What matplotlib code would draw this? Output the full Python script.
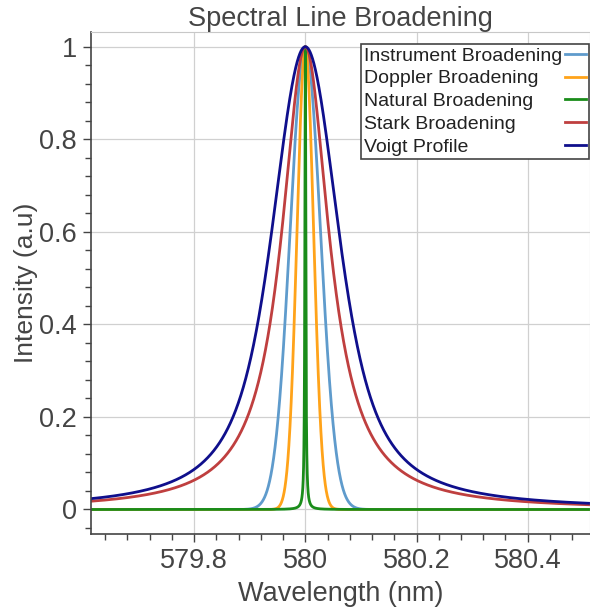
import numpy as np
import matplotlib
matplotlib.use("Agg")
import matplotlib.pyplot as plt
from matplotlib.ticker import MultipleLocator, FuncFormatter

plt.rcParams['font.family'] = ['Liberation Sans', 'DejaVu Sans']

# Profile parameters (nm)
center = 580.0
instrument_fwhm = 0.064   # Gaussian
doppler_fwhm = 0.035      # Gaussian
natural_fwhm = 0.002      # Lorentzian
stark_fwhm = 0.104        # Lorentzian
x_range = (579.614, 580.512)
y_range = (-0.053, 1.031)

labels = ["Instrument Broadening", "Doppler Broadening", "Natural Broadening",
          "Stark Broadening", "Voigt Profile"]
colors = ["#5f9bcc", "#ffa31a", "#1a8c1a", "#bf3f3f", "#0f0f8c"]

x = np.linspace(579.4, 580.6, 24001)
dx = x[1] - x[0]


def gauss(x, fwhm):
    s = fwhm / (2 * np.sqrt(2 * np.log(2)))
    return np.exp(-(x - center) ** 2 / (2 * s ** 2))


def lorentz(x, fwhm):
    g = fwhm / 2
    return 1 / (1 + ((x - center) / g) ** 2)


inst = gauss(x, instrument_fwhm)
dopp = gauss(x, doppler_fwhm)
nat = lorentz(x, natural_fwhm)
stark = lorentz(x, stark_fwhm)

# Voigt: Gaussian (instrument+doppler) convolved with Lorentzian (stark+natural)
g_fwhm = np.sqrt(instrument_fwhm ** 2 + doppler_fwhm ** 2)
offs = np.arange(-2000, 2001) * dx
kern = gauss(offs + center, g_fwhm)
kern = kern / kern.sum()
l_tot = lorentz(x, stark_fwhm + natural_fwhm)
voigt = np.convolve(l_tot, kern, mode="same")
voigt = voigt / voigt.max()

curves = [inst, dopp, nat, stark, voigt]

fig = plt.figure(figsize=(5.9, 6.11), dpi=100)
ax = fig.add_axes([0.1537, 0.126, 0.8463, 0.821])

for y, c, lab in zip(curves, colors, labels):
    ax.plot(x, y, color=c, lw=2, label=lab)

ax.set_xlim(*x_range)
ax.set_ylim(*y_range)

ax.xaxis.set_major_locator(MultipleLocator(0.2))
ax.xaxis.set_minor_locator(MultipleLocator(0.04))
ax.yaxis.set_major_locator(MultipleLocator(0.2))
ax.yaxis.set_minor_locator(MultipleLocator(0.04))
fmt = FuncFormatter(lambda v, p: f"{round(v, 6):g}")
ax.xaxis.set_major_formatter(fmt)
ax.yaxis.set_major_formatter(fmt)

ax.grid(True, which="major", color="#d0d0d0", lw=0.9)
ax.set_axisbelow(True)
for s in ["top", "right"]:
    ax.spines[s].set_color("#c8c8c8")
for s in ["left", "bottom"]:
    ax.spines[s].set_color("#444444")
    ax.spines[s].set_linewidth(1.2)

ax.tick_params(axis="both", which="major", direction="out", length=6, width=1,
               color="#444444", labelsize=19.5, labelcolor="#444444", pad=4)
ax.tick_params(axis="both", which="minor", direction="out", length=4, width=1,
               color="#444444")

ax.set_xlabel("Wavelength (nm)", fontsize=19.5, color="#444444", labelpad=5)
ax.set_ylabel("Intensity (a.u)", fontsize=19, color="#444444", labelpad=1)
ax.set_title("Spectral Line Broadening", fontsize=19.5, color="#444444", pad=3)

leg = ax.legend(loc="upper right", bbox_to_anchor=(0.998, 0.928),
                bbox_transform=fig.transFigure, fontsize=14, markerfirst=False,
                handlelength=1.1, handletextpad=0.1, labelspacing=0.27,
                borderpad=0.15, borderaxespad=0, frameon=True, fancybox=False,
                framealpha=1)
leg.get_frame().set_edgecolor("#444444")
leg.get_frame().set_linewidth(1.2)
for t in leg.get_texts():
    t.set_color("#222222")

# left-align legend texts while keeping the handles in a right-hand column
renderer = fig.canvas.get_renderer()
for col in leg._legend_handle_box.get_children():
    rows = col.get_children()
    w = max(r.get_bbox(renderer).width for r in rows)
    col.width = w
    for r in rows:
        r.mode = "expand"

fig.savefig("out.png", dpi=100)
